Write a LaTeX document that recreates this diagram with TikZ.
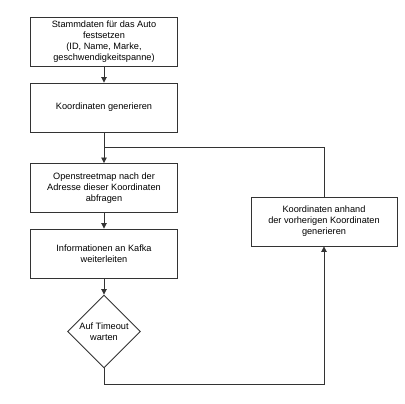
\documentclass[tikz,border=0pt]{standalone}
\usepackage{fontspec}
\setmainfont{Liberation Sans}
\usetikzlibrary{shapes.geometric,arrows.meta}
\definecolor{linegray}{RGB}{51,51,51}
\tikzset{
  stepbox/.style={draw=linegray, line width=0.9pt, minimum width=147pt, minimum height=49pt, align=center, inner sep=2pt},
  waitdiamond/.style={draw=linegray, line width=0.9pt, shape=diamond, aspect=1, minimum size=73pt, inner sep=0pt, align=center},
  flow/.style={draw=linegray, line width=0.9pt, -{Triangle[length=5.5pt,width=5.5pt]}},
  plain/.style={draw=linegray, line width=0.9pt}
}
\begin{document}
\begin{tikzpicture}[x=1pt, y=-1pt, font=\fontsize{9.2}{11}\selectfont]
            \useasboundingbox (0,0) rectangle (405,404);
            \node[stepbox] (stamm) at (104,41.5) {Stammdaten für das Auto\\festsetzen\\(ID, Name, Marke,\\geschwendigkeitspanne)};
            \node[stepbox] (koord) at (104,107.5) {Koordinaten generieren};
            \node[stepbox] (osm) at (104,188) {Openstreetmap nach der\\Adresse dieser Koordinaten\\abfragen};
            \node[stepbox] (kafka) at (104,253.5) {Informationen an Kafka\\weiterleiten};
            \node[waitdiamond] (timeout) at (104,331.5) {Auf Timeout\\warten};
            \node[stepbox, minimum width=146pt] (vorh) at (324,221.5) {Koordinaten anhand\\der vorherigen Koordinaten\\generieren};
            \coordinate (join) at (104,147.5);
            \coordinate (bottom) at (104,384);
            \draw[flow] (stamm) -- (koord);
            \draw[plain] (koord) -- (join);
            \draw[plain] (vorh) |- (join);
            \draw[flow] (join) -- (osm);
            \draw[flow] (osm) -- (kafka);
            \draw[flow] (kafka) -- (timeout);
            \draw[flow] (timeout) -- (bottom) -| (vorh);
        \end{tikzpicture}
\end{document}
